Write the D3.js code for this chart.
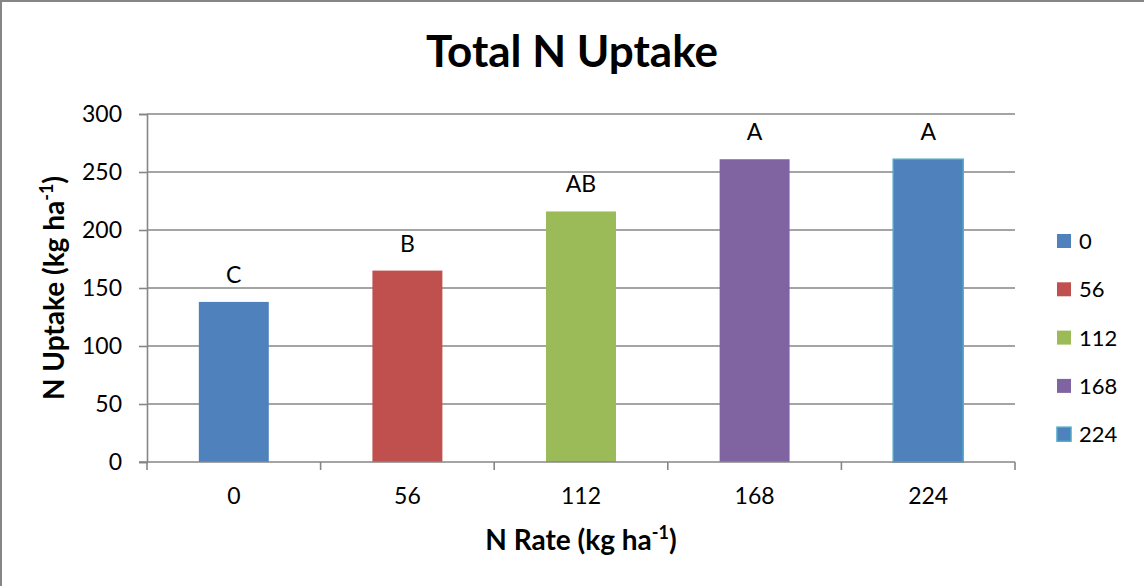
<!DOCTYPE html>
<html>
<head>
<meta charset="utf-8">
<script src="https://cdn.jsdelivr.net/npm/d3@7"></script>
<style>
  html, body { margin: 0; padding: 0; background: #fff; }
  svg { display: block; font-family: Lato, "Open Sans", sans-serif; }
</style>
</head>
<body>
<svg id="chart" width="1144" height="586"></svg>
<script>
// N rate treatments (kg ha-1) and total N uptake per treatment
const categories = ["0", "56", "112", "168", "224"];
const uptake = [138, 165, 216, 261, 261];
const letters = ["C", "B", "AB", "A", "A"];
const yTicks = [0, 50, 100, 150, 200, 250, 300];
const fills = ["#4F81BD", "#C0504D", "#9BBB59", "#8064A2", "#4F81BD"];
const outlines = [null, null, null, null, "#4BACC6"];

const svg = d3.select("#chart");
const W = 1144, H = 586;
const grid = "#868686";
const margin = { left: 147, right: 1015, top: 114, bottom: 462 };

// outer chart frame (top and left edges visible)
svg.append("line").attr("x1", 1).attr("y1", 0).attr("x2", 1).attr("y2", H)
  .attr("stroke", grid).attr("stroke-width", 2);
svg.append("line").attr("x1", 0).attr("y1", 1).attr("x2", W).attr("y2", 1)
  .attr("stroke", grid).attr("stroke-width", 2);

const x = d3.scaleBand().domain(categories)
  .range([margin.left, margin.right])
  .paddingInner(0.597).paddingOuter(0.2985);
const y = d3.scaleLinear().domain([0, 300]).range([margin.bottom, margin.top]);

// horizontal gridlines
svg.append("g").selectAll("line").data(yTicks.filter(d => d > 0)).join("line")
  .attr("x1", margin.left).attr("x2", margin.right)
  .attr("y1", d => y(d)).attr("y2", d => y(d))
  .attr("stroke", grid).attr("stroke-width", 1.6);

// y axis
const yAxis = svg.append("g").attr("transform", `translate(${margin.left},0)`)
  .call(d3.axisLeft(y).tickValues(yTicks).tickSize(8).tickPadding(17));
yAxis.select(".domain").attr("stroke", grid).attr("stroke-width", 1.6);
yAxis.selectAll(".tick line").attr("stroke", grid).attr("stroke-width", 1.6);
yAxis.selectAll(".tick text").attr("font-size", 23).attr("fill", "#000")
  .attr("font-family", "Lato, sans-serif");

// bars
svg.append("g").selectAll("rect").data(categories).join("rect")
  .attr("x", d => x(d)).attr("width", x.bandwidth())
  .attr("y", (d, i) => y(uptake[i]))
  .attr("height", (d, i) => y(0) - y(uptake[i]))
  .attr("fill", (d, i) => fills[i])
  .attr("stroke", (d, i) => outlines[i] || "none")
  .attr("stroke-width", 1.5);

// category axis along the baseline, ticks on band boundaries
const step = x.step();
const bounds = d3.range(categories.length + 1)
  .map(i => margin.left + i * step);
svg.append("line").attr("x1", margin.left - 8).attr("x2", margin.right)
  .attr("y1", y(0)).attr("y2", y(0))
  .attr("stroke", grid).attr("stroke-width", 1.6);
svg.append("g").selectAll("line").data(bounds).join("line")
  .attr("x1", d => d).attr("x2", d => d)
  .attr("y1", y(0)).attr("y2", y(0) + 8)
  .attr("stroke", grid).attr("stroke-width", 1.6);
svg.append("g").selectAll("text").data(categories).join("text")
  .attr("x", d => x(d) + x.bandwidth() / 2).attr("y", y(0) + 42)
  .attr("text-anchor", "middle").attr("font-size", 23).text(d => d);

// significance letters above bars
svg.append("g").selectAll("text").data(categories).join("text")
  .attr("x", d => x(d) + x.bandwidth() / 2)
  .attr("y", (d, i) => y(uptake[i]) - 19)
  .attr("text-anchor", "middle").attr("font-size", 23)
  .text((d, i) => letters[i]);

// title
svg.append("text").attr("x", 572).attr("y", 67).attr("text-anchor", "middle")
  .attr("font-size", 44).attr("font-weight", "bold").text("Total N Uptake");

// axis titles with superscript exponent
function unitTitle(sel, main) {
  sel.append("tspan").text(main + " (kg ha");
  sel.append("tspan").attr("dy", -11).attr("font-size", 18).text("-1");
  sel.append("tspan").attr("dy", 11).text(")");
}
svg.append("text").attr("x", 581).attr("y", 550).attr("text-anchor", "middle")
  .attr("font-size", 28).attr("font-weight", "bold")
  .call(unitTitle, "N Rate");
svg.append("text").attr("transform", "translate(64,288) rotate(-90)")
  .attr("text-anchor", "middle")
  .attr("font-size", 28).attr("font-weight", "bold")
  .call(unitTitle, "N Uptake");

// legend
const legend = svg.append("g").selectAll("g").data(categories).join("g")
  .attr("transform", (d, i) => `translate(1057,${241 + i * 48.3})`);
legend.append("rect").attr("x", 0).attr("y", -7).attr("width", 14).attr("height", 14)
  .attr("fill", (d, i) => fills[i])
  .attr("stroke", (d, i) => outlines[i] || "none").attr("stroke-width", 1.5);
legend.append("text").attr("x", 22).attr("y", 0).attr("dy", "0.36em")
  .attr("font-size", 22).text(d => d);
</script>
</body>
</html>
